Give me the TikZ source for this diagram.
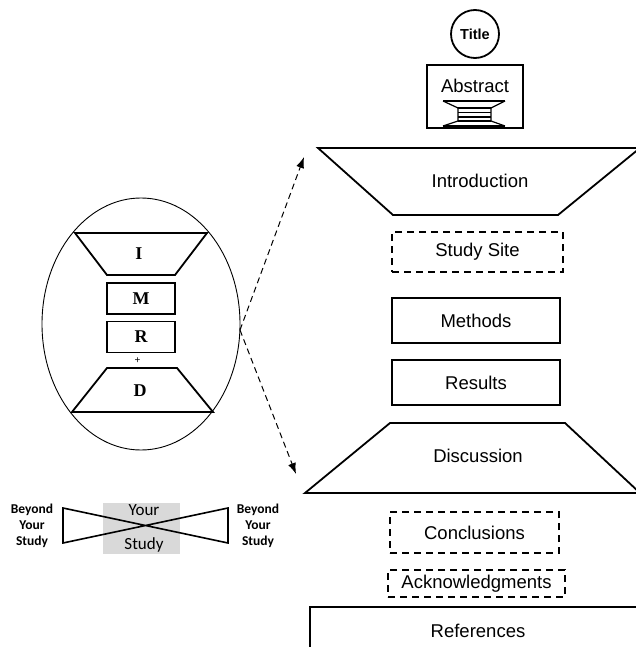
\documentclass[tikz,border=0pt]{standalone}
\usepackage{fontspec}
\setmainfont{Liberation Sans}
\newfontfamily\imrdfont{Liberation Serif}
\newfontfamily\calfont{Carlito}
\usetikzlibrary{arrows.meta}

\tikzset{
  secbox/.style={draw, line width=1.5pt, minimum height=45pt, minimum width=168pt, inner sep=0pt},
  optbox/.style={draw, line width=1.8pt, dash pattern=on 7pt off 5pt, inner sep=0pt},
  trap/.style={draw, line width=1.8pt, line join=miter},
  lbl/.style={font=\fontsize{18.5}{20}\selectfont, inner sep=0pt},
  imrd/.style={font=\imrdfont\bfseries\fontsize{18}{20}\selectfont, inner sep=0pt},
  smallbox/.style={draw, line width=1.5pt, minimum width=68pt, minimum height=31pt, inner sep=0pt},
  side/.style={font=\calfont\bfseries\fontsize{13.5}{16}\selectfont, align=center, inner sep=0pt},
  mid/.style={font=\calfont\fontsize{17}{19}\selectfont, inner sep=0pt},
  link/.style={line width=1pt, dash pattern=on 6pt off 4pt, -{Latex[length=11pt,width=8pt]}}
}

\begin{document}
\begin{tikzpicture}[x=1pt,y=-1pt]
\useasboundingbox (0,0) rectangle (636,647);

% ---------- right column: the paper's sections ----------
\node[draw, circle, line width=1.8pt, minimum size=48pt, inner sep=0pt,
      font=\bfseries\fontsize{14.5}{16}\selectfont] (title) at (475,34) {Title};

\draw[line width=2.2pt] (427,65) rectangle (523,128);
\node[lbl] (abstract) at (475,86) {Abstract};
% small hourglass symbol inside the abstract
\draw[line width=1.2pt] (443,101) -- (505,101);
\draw[line width=1.2pt] (443,101) -- (458,108) -- (458,121) -- (443,126);
\draw[line width=1.2pt] (505,101) -- (491,108) -- (491,121) -- (505,126);
\foreach \yy in {108,112.5,117,121}
  \draw[line width=1.2pt] (458,\yy) -- (491,\yy);
\draw[line width=1.2pt] (443,126) -- (505,126);

\draw[trap] (318,148) -- (640,148) -- (558,215) -- (393,215) -- cycle;
\node[lbl] (intro) at (480,181) {Introduction};
\coordinate (introtip) at (304,157);

\node[optbox, minimum width=171pt, minimum height=40pt] (site) at (477.5,252) {};
\node[lbl] at (site) {Study Site};

\node[secbox] (methods) at (476,320.5) {};
\node[lbl] at (methods) {Methods};
\node[secbox] (results) at (476,382.5) {};
\node[lbl] at (results) {Results};

\draw[trap] (390,423) -- (565,423) -- (640,493) -- (305,493) -- cycle;
\node[lbl] (disc) at (478,456) {Discussion};
\coordinate (disctip) at (296,474);

\node[optbox, minimum width=169pt, minimum height=41pt] (concl) at (474.5,532.5) {};
\node[lbl] at (concl) {Conclusions};
\node[optbox, minimum width=177pt, minimum height=27pt] (ack) at (476.5,583.5) {};
\node[lbl] at (ack) {Acknowledgments};

\draw[line width=1.8pt] (310,662) -- (310,607) -- (650,607);
\node[lbl] (refs) at (478,631) {References};

% ---------- left: the IMRD outline ----------
\draw[line width=0.9pt] (141,324) ellipse [x radius=99, y radius=126];
\draw[trap] (75,233) -- (207,233) -- (175,275) -- (107,275) -- cycle;
\node[imrd] (i) at (139,254) {I};
\node[smallbox] (m) at (141,298.5) {};
\node[imrd] at (m) {M};
\node[smallbox] (r) at (141,337) {};
\node[imrd] at (r) {R};
\node[font=\fontsize{10}{10}\selectfont, inner sep=0pt] (plus) at (137.5,361) {+};
\draw[trap] (107,368) -- (177,368) -- (213,412) -- (72,412) -- cycle;
\node[imrd] (d) at (140,391) {D};

\coordinate (imrdedge) at (240,330);
\draw[link] (imrdedge) -- (introtip);
\draw[link] (imrdedge) -- (disctip);

% ---------- bow tie: beyond your study ----------
\fill[black!15] (103,503) rectangle (180,554);
\draw[line width=1.6pt, line join=miter] (63,508) -- (228,543) -- (228,508) -- (63,543) -- cycle;
\node[mid] (your) at (144,510) {Your};
\node[mid] (study) at (144,545) {Study};
\node[side] (beyondl) at (32,526) {Beyond\\Your\\Study};
\node[side] (beyondr) at (258,526) {Beyond\\Your\\Study};
\end{tikzpicture}
\end{document}
